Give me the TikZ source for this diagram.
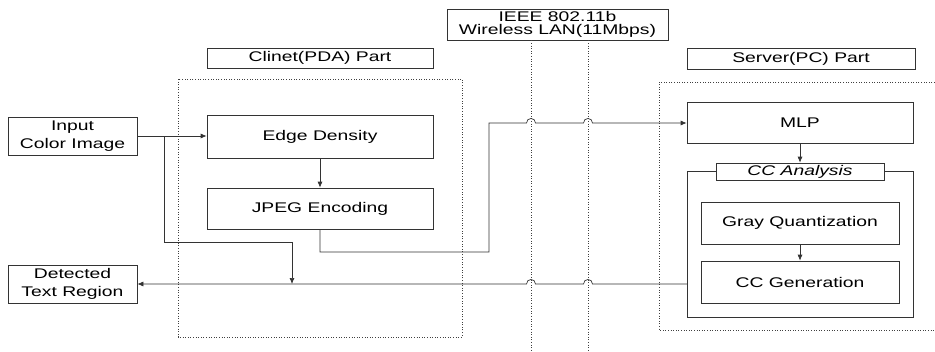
\documentclass[tikz,border=0pt]{standalone}
\usepackage{fontspec}
\setmainfont{Liberation Sans}[FakeStretch=1.38]
\usetikzlibrary{arrows.meta,calc}
\begin{document}
\begin{tikzpicture}[x=1pt,y=-1pt,
  ln/.style={draw=black!80,line width=0.7pt},
  box/.style={ln,rectangle,inner sep=0pt,align=center,font=\fontsize{14}{17.5}\selectfont},
  region/.style={draw=black!75,line width=0.7pt,dash pattern=on 1pt off 1.6pt},
  arr/.style={ln,-{Latex[length=6pt,width=5pt]}}]
\useasboundingbox (0,0) rectangle (935,351);
% regions
\draw[region] (178,79) rectangle (462,337);
\draw[region] (935,82) -- (659,82) -- (659,330) -- (935,330);
% nodes
\node[box,minimum width=129pt,minimum height=38pt] (inp) at (72.5,136) {Input\\Color Image};
\node[box,minimum width=129pt,minimum height=38pt] (det) at (72.5,284) {Detected\\Text Region};
\node[box,minimum width=226pt,minimum height=20pt] (cli) at (320,58) {Clinet(PDA) Part};
\node[box,minimum width=221pt,minimum height=31pt,font=\fontsize{14}{13.7}\selectfont] (ieee) at (557.5,24.5) {IEEE 802.11b\\Wireless LAN(11Mbps)};
\node[box,minimum width=228pt,minimum height=21pt] (srv) at (801,58.5) {Server(PC) Part};
\node[box,minimum width=226pt,minimum height=43pt] (ed) at (320,136.5) {Edge Density};
\node[box,minimum width=226pt,minimum height=41pt] (jp) at (320,208.5) {JPEG Encoding};
\node[box,minimum width=226pt,minimum height=41pt] (mlp) at (800,122.5) {MLP};
\node[box,minimum width=168pt,minimum height=17pt,font=\fontsize{14}{17}\selectfont\itshape] (cca) at (800,171.5) {CC Analysis};
\node[box,minimum width=198pt,minimum height=42pt] (gq) at (800,223) {Gray Quantization};
\node[box,minimum width=198pt,minimum height=42pt] (ccg) at (800,282) {CC Generation};
% CC analysis outer box
\coordinate (oL) at (687,317);
\coordinate (oR) at (913,317);
\draw[ln,line width=0.6pt] (cca.west) -- (oL|-cca.west) -- (oL) -- (oR) -- (oR|-cca.east) -- (cca.east);
% wireless channel lines
\coordinate (w1) at (531,351);
\coordinate (w2) at (588,351);
\draw[region] (w1|-ieee.south) -- (w1);
\draw[region] (w2|-ieee.south) -- (w2);
% arrows
\draw[arr] (inp.east) -- (ed.west|-inp.east);
\coordinate (b1) at (164,242);
\coordinate (b2) at (292,284);
\draw[arr] (b1|-inp.east) -- (b1) -- (b2|-b1) -- (b2);
\draw[arr] (ed.south) -- (jp.north);
\coordinate (j1) at (489,252);
\coordinate (m1) at (687,123);
\draw[arr] (jp.south) -- (jp.south|-j1) -- (j1) -- (j1|-m1)
  -- ($(w1|-m1)+(-4.5,0)$) .. controls +(0,-6) and +(0,-6) .. ($(w1|-m1)+(4.5,0)$)
  -- ($(w2|-m1)+(-4.5,0)$) .. controls +(0,-6) and +(0,-6) .. ($(w2|-m1)+(4.5,0)$)
  -- (mlp.west|-m1);
\draw[arr] (mlp.south) -- (cca.north);
\draw[arr] (gq.south) -- (ccg.north);
\coordinate (d1) at (687,284);
\draw[arr] (d1)
  -- ($(w2|-d1)+(4.5,0)$) .. controls +(0,-6) and +(0,-6) .. ($(w2|-d1)+(-4.5,0)$)
  -- ($(w1|-d1)+(4.5,0)$) .. controls +(0,-6) and +(0,-6) .. ($(w1|-d1)+(-4.5,0)$)
  -- (det.east|-d1);
\end{tikzpicture}
\end{document}
